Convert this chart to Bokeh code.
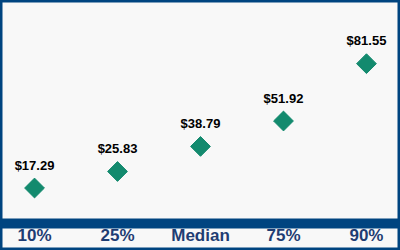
import math
from bokeh.plotting import figure
from bokeh.models import FixedTicker, ColumnDataSource, Range1d
from bokeh.core.properties import value
from bokeh.embed import file_html
from bokeh.resources import INLINE

categories = ["10%", "25%", "Median", "75%", "90%"]
values = [17.29, 25.83, 38.79, 51.92, 81.55]
value_labels = ["$17.29", "$25.83", "$38.79", "$51.92", "$81.55"]

xs = list(range(len(categories)))
src = ColumnDataSource(dict(x=xs, y=values, label=value_labels))

BLUE = "#004480"
BG = "#f8f8f8"

p = figure(width=400, height=250, output_backend="svg", toolbar_location=None,
           x_range=Range1d(-0.41, 4.41), y_range=Range1d(-15.0, 114.2),
           min_border=0)
p.background_fill_color = BG
p.border_fill_color = BG
p.outline_line_color = BLUE
p.outline_line_width = 4
p.grid.visible = False
p.yaxis.visible = False

ax = p.xaxis[0]
ax.fixed_location = -1
ax.ticker = FixedTicker(ticks=xs)
ax.major_label_overrides = {i: c for i, c in zip(xs, categories)}
ax.axis_line_width = 10
ax.axis_line_color = BLUE
ax.major_tick_line_color = None
ax.minor_tick_line_color = None
ax.major_label_standoff = -3
ax.major_label_text_font = "Liberation Sans"
ax.major_label_text_font_style = "bold"
ax.major_label_text_font_size = "17px"
ax.major_label_text_color = "#1f3d73"

p.scatter(x="x", y="y", source=src, marker="square", size=14, angle=math.pi / 4,
          fill_color="#138a6e", line_color="#138a6e")
p.text(x="x", y="y", text="label", source=src, text_align="center",
       text_baseline="middle", y_offset=-23, text_font=value("Liberation Sans"),
       text_font_style="bold", text_font_size="13px", text_color="black")

open("out.html", "w").write(file_html(p, INLINE))
